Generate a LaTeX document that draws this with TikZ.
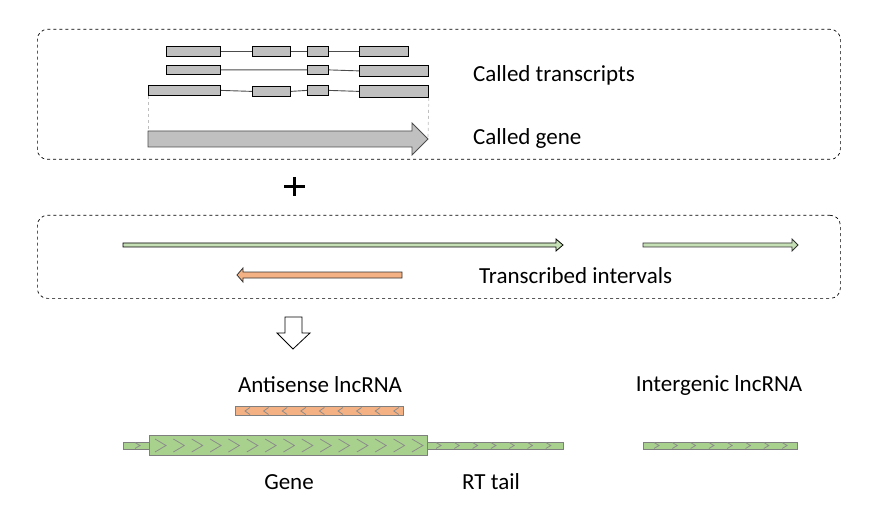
\documentclass[tikz,border=0pt]{standalone}
\usepackage{fontspec}
\setmainfont{Carlito}
\definecolor{exongray}{HTML}{C0C0C0}
\definecolor{lgreen}{HTML}{C5E0B4}
\definecolor{mgreen}{HTML}{A9D18E}
\definecolor{lorange}{HTML}{F4B183}
\definecolor{outl}{HTML}{7F7F7F}
\definecolor{chev}{HTML}{8C8C8C}
\tikzset{
  panel/.style={draw=black, dashed, rounded corners=10pt, line width=0.7pt},
  exon/.style={draw=black, fill=exongray, line width=0.8pt},
  intron/.style={draw=black!70, line width=0.9pt},
  guide/.style={draw=black!25, dashed, line width=0.7pt},
  lbl/.style={font=\fontsize{23}{27}\selectfont, anchor=west, inner sep=0pt},
  clbl/.style={font=\fontsize{23}{27}\selectfont, inner sep=0pt},
  greenbar/.style={draw=outl, fill=mgreen, line width=0.9pt},
  orangebar/.style={draw=outl, fill=lorange, line width=0.9pt},
  chevron/.style={draw=chev, line width=0.8pt},
}
\begin{document}
\begin{tikzpicture}[x=1pt,y=-1pt]
\useasboundingbox (0,0) rectangle (873,513);
% panels
\node[panel, minimum width=803pt, minimum height=130pt, anchor=north west] (p1) at (37,29) {};
\node[panel, minimum width=803pt, minimum height=83pt, anchor=north west] (p2) at (37,215) {};
% transcripts row 1
\foreach \n/\a/\b in {a/166/220, b/252/290, c/307/328, d/359/408}
  \node[exon, anchor=north west, minimum width={(\b-\a)*1pt}, minimum height=10pt, inner sep=0pt] (r1\n) at (\a,46) {};
\draw[intron] (r1a.east) -- (r1b.west) (r1b.east) -- (r1c.west) (r1c.east) -- (r1d.west);
% row 2
\node[exon, anchor=north west, minimum width=54pt, minimum height=9pt, inner sep=0pt] (r2a) at (166,65) {};
\node[exon, anchor=north west, minimum width=21pt, minimum height=9pt, inner sep=0pt] (r2c) at (307,65) {};
\node[exon, anchor=north west, minimum width=69pt, minimum height=11pt, inner sep=0pt] (r2d) at (359,65) {};
\draw[intron] (r2a.east) -- (r2c.west) (r2c.east) -- (r2d.west);
% row 3
\node[exon, anchor=north west, minimum width=72pt, minimum height=10pt, inner sep=0pt] (r3a) at (148,85) {};
\node[exon, anchor=north west, minimum width=38pt, minimum height=10pt, inner sep=0pt] (r3b) at (252,86) {};
\node[exon, anchor=north west, minimum width=21pt, minimum height=10pt, inner sep=0pt] (r3c) at (307,85) {};
\node[exon, anchor=north west, minimum width=69pt, minimum height=12pt, inner sep=0pt] (r3d) at (359,85) {};
\draw[intron] (r3a.east) -- (r3b.west) (r3b.east) -- (r3c.west) (r3c.east) -- (r3d.west);
% called gene arrow
\coordinate (g1) at (428,139);
\draw[draw=black!70, fill=exongray, line width=0.8pt] (148,131) -- (412,131) -- (412,123) -- (g1) -- (412,155) -- (412,147) -- (148,147) -- cycle;
\draw[guide] (r3a.south west) -- (148,131);
\draw[guide] (r3d.south east) -- (g1);
\node[lbl] (t1) at (473,75) {Called transcripts};
\node[lbl] (t2) at (473,138) {Called gene};
% plus
\draw[line width=2.6pt] (284,186.5) -- (305,186.5) (294.5,177) -- (294.5,196);
\coordinate (plus) at (294.5,186.5);
% transcribed intervals
\draw[fill=lgreen, draw=black, line width=0.8pt] (123,243) -- (556,243) -- (556,239) -- (563,245) -- (556,251) -- (556,247) -- (123,247) -- cycle;
\draw[fill=lgreen, draw=black!80, line width=0.8pt] (643,243) -- (792,243) -- (792,239) -- (798,245) -- (792,251) -- (792,247) -- (643,247) -- cycle;
\draw[fill=lorange, draw=black!80, line width=0.8pt] (402,272) -- (243,272) -- (243,268) -- (237,275) -- (243,282) -- (243,278) -- (402,278) -- cycle;
\node[lbl] (t3) at (479,276) {Transcribed intervals};
% hollow down arrow
\draw[fill=white, draw=black, line width=0.8pt] (285,317) -- (302,317) -- (302,333) -- (310,333) -- (293,349) -- (277,333) -- (285,333) -- cycle;
% labels
\node[clbl] (as) at (320,385) {Antisense lncRNA};
\node[clbl] (ig) at (719,385) {Intergenic lncRNA};
\node[clbl] (gn) at (289,482) {Gene};
\node[clbl] (rt) at (491,482) {RT tail};
% bottom bars
\node[orangebar, anchor=north west, minimum width=168pt, minimum height=9pt, inner sep=0pt] (ob) at (235,406) {};
\foreach \i in {0,...,8}
  \draw[chevron] ({250+\i*18.6},407.5) -- ({245+\i*18.6},411) -- ({250+\i*18.6},414.5);
\node[greenbar, anchor=north west, minimum width=440pt, minimum height=7pt, inner sep=0pt] (tb) at (123,442) {};
\node[greenbar, anchor=north west, minimum width=278pt, minimum height=20pt, inner sep=0pt] (gb) at (149,435) {};
\draw[chevron] (135,442.5) -- (140,445.5) -- (135,448.5);
\foreach \i in {0,...,14}
  \draw[chevron] ({155+\i*18.35},439) -- ({166+\i*18.35},445.5) -- ({155+\i*18.35},452);
\foreach \i in {0,...,6}
  \draw[chevron] ({436+\i*18.3},442.5) -- ({441+\i*18.3},445.5) -- ({436+\i*18.3},448.5);
\node[greenbar, anchor=north west, minimum width=154pt, minimum height=7pt, inner sep=0pt] (ib) at (643,442) {};
\foreach \i in {0,...,7}
  \draw[chevron] ({654+\i*18.3},442.5) -- ({659+\i*18.3},445.5) -- ({654+\i*18.3},448.5);
\end{tikzpicture}
\end{document}
